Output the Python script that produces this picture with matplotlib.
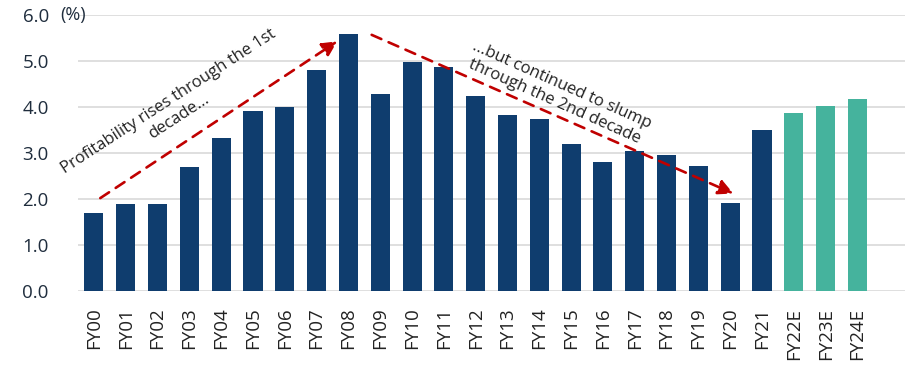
import matplotlib.pyplot as plt
import numpy as np

plt.rcParams['font.family'] = ['Open Sans', 'DejaVu Sans']

# profitability (%) by fiscal year, actuals then estimates
anos = ['FY00', 'FY01', 'FY02', 'FY03', 'FY04', 'FY05', 'FY06', 'FY07', 'FY08',
        'FY09', 'FY10', 'FY11', 'FY12', 'FY13', 'FY14', 'FY15', 'FY16', 'FY17',
        'FY18', 'FY19', 'FY20', 'FY21', 'FY22E', 'FY23E', 'FY24E']
valores = [1.7, 1.9, 1.9, 2.7, 3.33, 3.91, 4.0, 4.8, 5.59,
           4.29, 4.98, 4.86, 4.25, 3.82, 3.75, 3.2, 2.81, 3.04,
           2.95, 2.72, 1.91, 3.5, 3.88, 4.02, 4.17]
estimado = [a.endswith('E') for a in anos]

azul = '#0F3D6E'
verde = '#45B39D'
vermelho = '#C00000'

fig = plt.figure(figsize=(9.07, 3.67), dpi=100)
ax = fig.add_axes([0.086, 0.207, 0.912, 0.752])

x = np.arange(len(anos))
cores = [verde if e else azul for e in estimado]
ax.bar(x, valores, width=0.6, color=cores, zorder=3)

ax.set_xlim(-0.5, 25.5)
ax.set_ylim(0, 6)
ax.set_yticks(np.arange(0, 6.01, 1.0))
ax.set_yticklabels([f'{v:.1f}' for v in np.arange(0, 6.01, 1.0)],
                   fontsize=13.5, color='#1F2D3D')
ax.set_xticks(x)
ax.set_xticklabels(anos, rotation=90, fontsize=13.5, color='#222222')
ax.tick_params(axis='y', length=0, pad=21)
ax.tick_params(axis='x', length=0, pad=12)
ax.grid(axis='y', color='#D9D9D9', linewidth=1.2, zorder=0)
for s in ax.spines.values():
    s.set_visible(False)

ax.text(-0.25, 6.0, '(%)', fontsize=13, color='#1F2D3D', ha='right', va='center')

# setas tracejadas de tendencia
seta = dict(arrowstyle='-|>,head_length=0.9,head_width=0.45', color=vermelho,
            linestyle=(0, (4, 3)), linewidth=1.9, shrinkA=0, shrinkB=0)
ax.annotate('', xy=(7.65, 5.43), xytext=(0.2, 2.02), arrowprops=seta, zorder=5)
ax.annotate('', xy=(20.1, 2.12), xytext=(8.73, 5.57), arrowprops=seta, zorder=5)

ax.text(2.5, 3.95, 'Profitability rises through the 1st\ndecade...',
        rotation=33, ha='center', va='center', fontsize=12, color='#222222',
        rotation_mode='anchor', linespacing=1.2, zorder=6)
ax.text(14.6, 4.3, '...but continued to slump\nthrough the 2nd decade',
        rotation=-24, ha='center', va='center', fontsize=12, color='#222222',
        rotation_mode='anchor', linespacing=1.2, zorder=6)

fig.savefig('out.png', dpi=100)
